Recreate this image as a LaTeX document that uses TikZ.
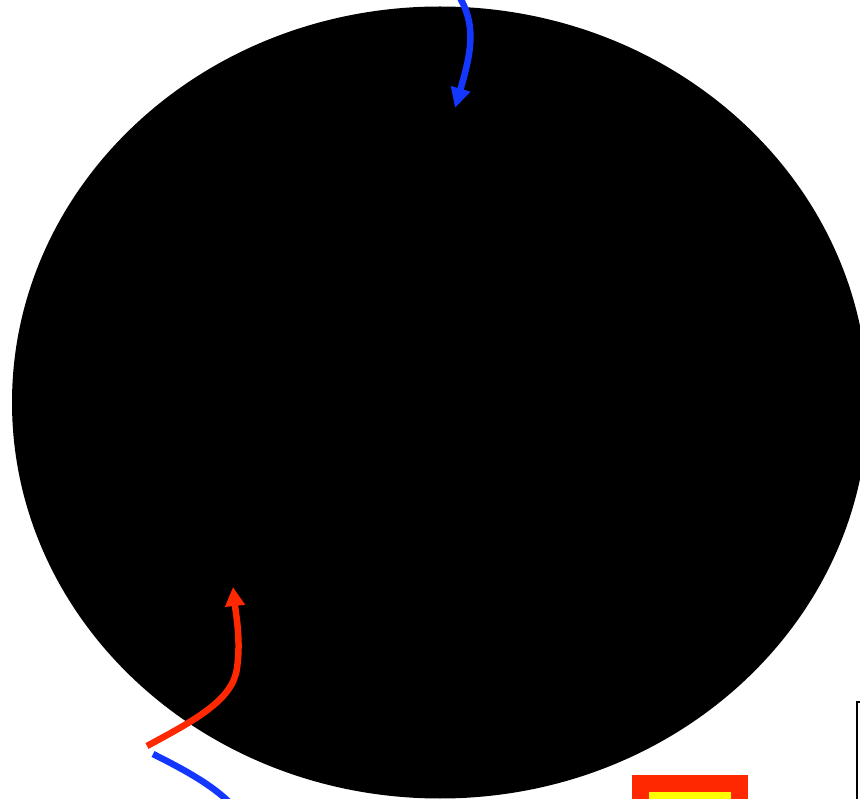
\documentclass[tikz,border=0pt]{standalone}
\usetikzlibrary{arrows.meta,shapes.geometric}
\definecolor{myblue}{RGB}{20,55,255}
\definecolor{myred}{RGB}{255,40,0}
\definecolor{myyellow}{RGB}{255,255,0}
\tikzset{
  bluearrow/.style={draw=myblue,line width=6.5pt,-{Triangle[length=20pt,width=19pt]}},
  redarrow/.style={draw=myred,line width=6.5pt,-{Triangle[length=19pt,width=19pt]}},
  blueline/.style={draw=myblue,line width=6.5pt},
}
\begin{document}
\begin{tikzpicture}[x=1pt,y=-1pt]
\useasboundingbox (0,0) rectangle (860,799);
\begin{scope}
\clip (0,0) rectangle (860,799);
\node[ellipse,fill=black,minimum width=856pt,minimum height=792pt,inner sep=0pt] (disc) at (440,402.5) {};
\coordinate (bs) at (459,-4);
\coordinate (bt) at (455,108);
\draw[bluearrow] (bs) .. controls (476,25) and (472,50) .. (bt);
\coordinate (rs) at (147,746);
\coordinate (rm) at (237,668);
\coordinate (rt) at (233,587);
\draw[redarrow] (rs) .. controls (195,720) and (233,700) .. (rm) .. controls (241,640) and (236,615) .. (rt);
\coordinate (ls) at (153,754);
\coordinate (le) at (230,803);
\draw[blueline] (ls) .. controls (185,770) and (212,785) .. (le);
\node[draw=myred,line width=17pt,fill=myyellow,outer sep=0pt,minimum width=99pt,minimum height=60pt,inner sep=0pt,anchor=north west] (box) at (640.5,783.5) {};
\node[draw=black,line width=2.5pt,outer sep=0pt,minimum width=80pt,minimum height=150pt,inner sep=0pt,anchor=north west] (frame) at (857,702) {};
\end{scope}
\end{tikzpicture}
\end{document}
